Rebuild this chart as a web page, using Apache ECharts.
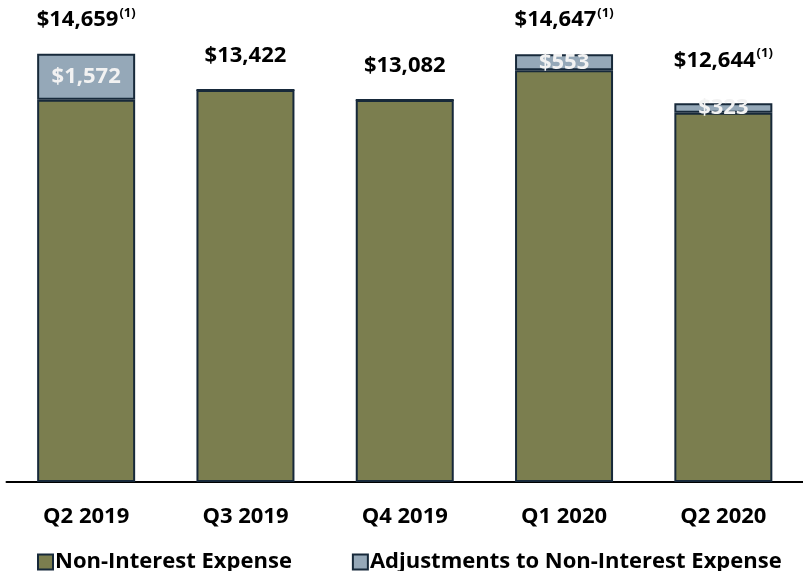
<!DOCTYPE html>
<html>
<head>
<meta charset="utf-8">
<script src="https://cdn.jsdelivr.net/npm/echarts@6/dist/echarts.min.js"></script>
<style>html,body{margin:0;padding:0;background:#fff}#c{width:803px;height:571px}</style>
</head>
<body>
<div id="c"></div>
<script>
const categories = ['Q2 2019', 'Q3 2019', 'Q4 2019', 'Q1 2020', 'Q2 2020'];
const nonInterestExpense = [13087, 13422, 13082, 14094, 12644];
const adjustments = [1572, 0, 0, 553, 323];
const totalLabels = ['$14,659', '$13,422', '$13,082', '$14,647', '$12,644'];
const footnoteFlags = [true, false, false, true, true];

const FONT = 'Open Sans';
const chart = echarts.init(document.getElementById('c'));
const fmt = v => '$' + v.toLocaleString('en-US');

chart.setOption({
  animation: false,
  textStyle: { fontFamily: FONT },
  grid: { left: 6.5, right: -8.5, top: 14.7, bottom: 89 },
  legend: {
    data: ['Non-Interest Expense', 'Adjustments to Non-Interest Expense'],
    left: 32, top: 546,
    icon: 'rect', itemWidth: 15, itemHeight: 15, itemGap: 60,
    textStyle: { fontFamily: FONT, fontWeight: 'bold', fontSize: 22, color: '#000', padding: [0, 0, 0, -3] }
  },
  xAxis: {
    type: 'category', data: categories,
    axisLine: { lineStyle: { color: '#000', width: 2 } },
    axisTick: { show: false },
    axisLabel: { color: '#000', fontFamily: FONT, fontWeight: 'bold', fontSize: 22, margin: 24 }
  },
  yAxis: { type: 'value', min: 0, max: 16000, show: false, splitLine: { show: false } },
  series: [
    {
      name: 'Non-Interest Expense', type: 'bar', stack: 's', barWidth: 98,
      data: nonInterestExpense,
      itemStyle: { color: '#7b7e4f', borderColor: '#17293a', borderWidth: 2 }
    },
    {
      name: 'Adjustments to Non-Interest Expense', type: 'bar', stack: 's', barWidth: 98,
      data: adjustments,
      itemStyle: { color: '#95a8b8', borderColor: '#17293a', borderWidth: 2 },
      label: {
        show: true, position: 'inside', color: '#f2f2f2',
        fontFamily: FONT, fontWeight: 'bold', fontSize: 22,
        formatter: p => p.value ? fmt(p.value) : ''
      }
    },
    {
      name: 'total', type: 'bar', stack: 's', barWidth: 98,
      data: categories.map((c, i) => ({
        value: 0,
        label: { distance: i === 4 ? 30 : 21 }
      })),
      itemStyle: { color: 'rgba(0,0,0,0)', borderWidth: 0 },
      label: {
        show: true, position: 'top',
        formatter: p => '{a|' + totalLabels[p.dataIndex] + '}' + (footnoteFlags[p.dataIndex] ? '{s|(1)}' : ''),
        rich: {
          a: { fontFamily: FONT, fontWeight: 'bold', fontSize: 22, color: '#000', lineHeight: 26 },
          s: { fontFamily: FONT, fontWeight: 'bold', fontSize: 13, color: '#000', lineHeight: 26, verticalAlign: 'top', padding: [0, 0, 8, 1] }
        }
      }
    }
  ]
});
</script>
</body>
</html>
